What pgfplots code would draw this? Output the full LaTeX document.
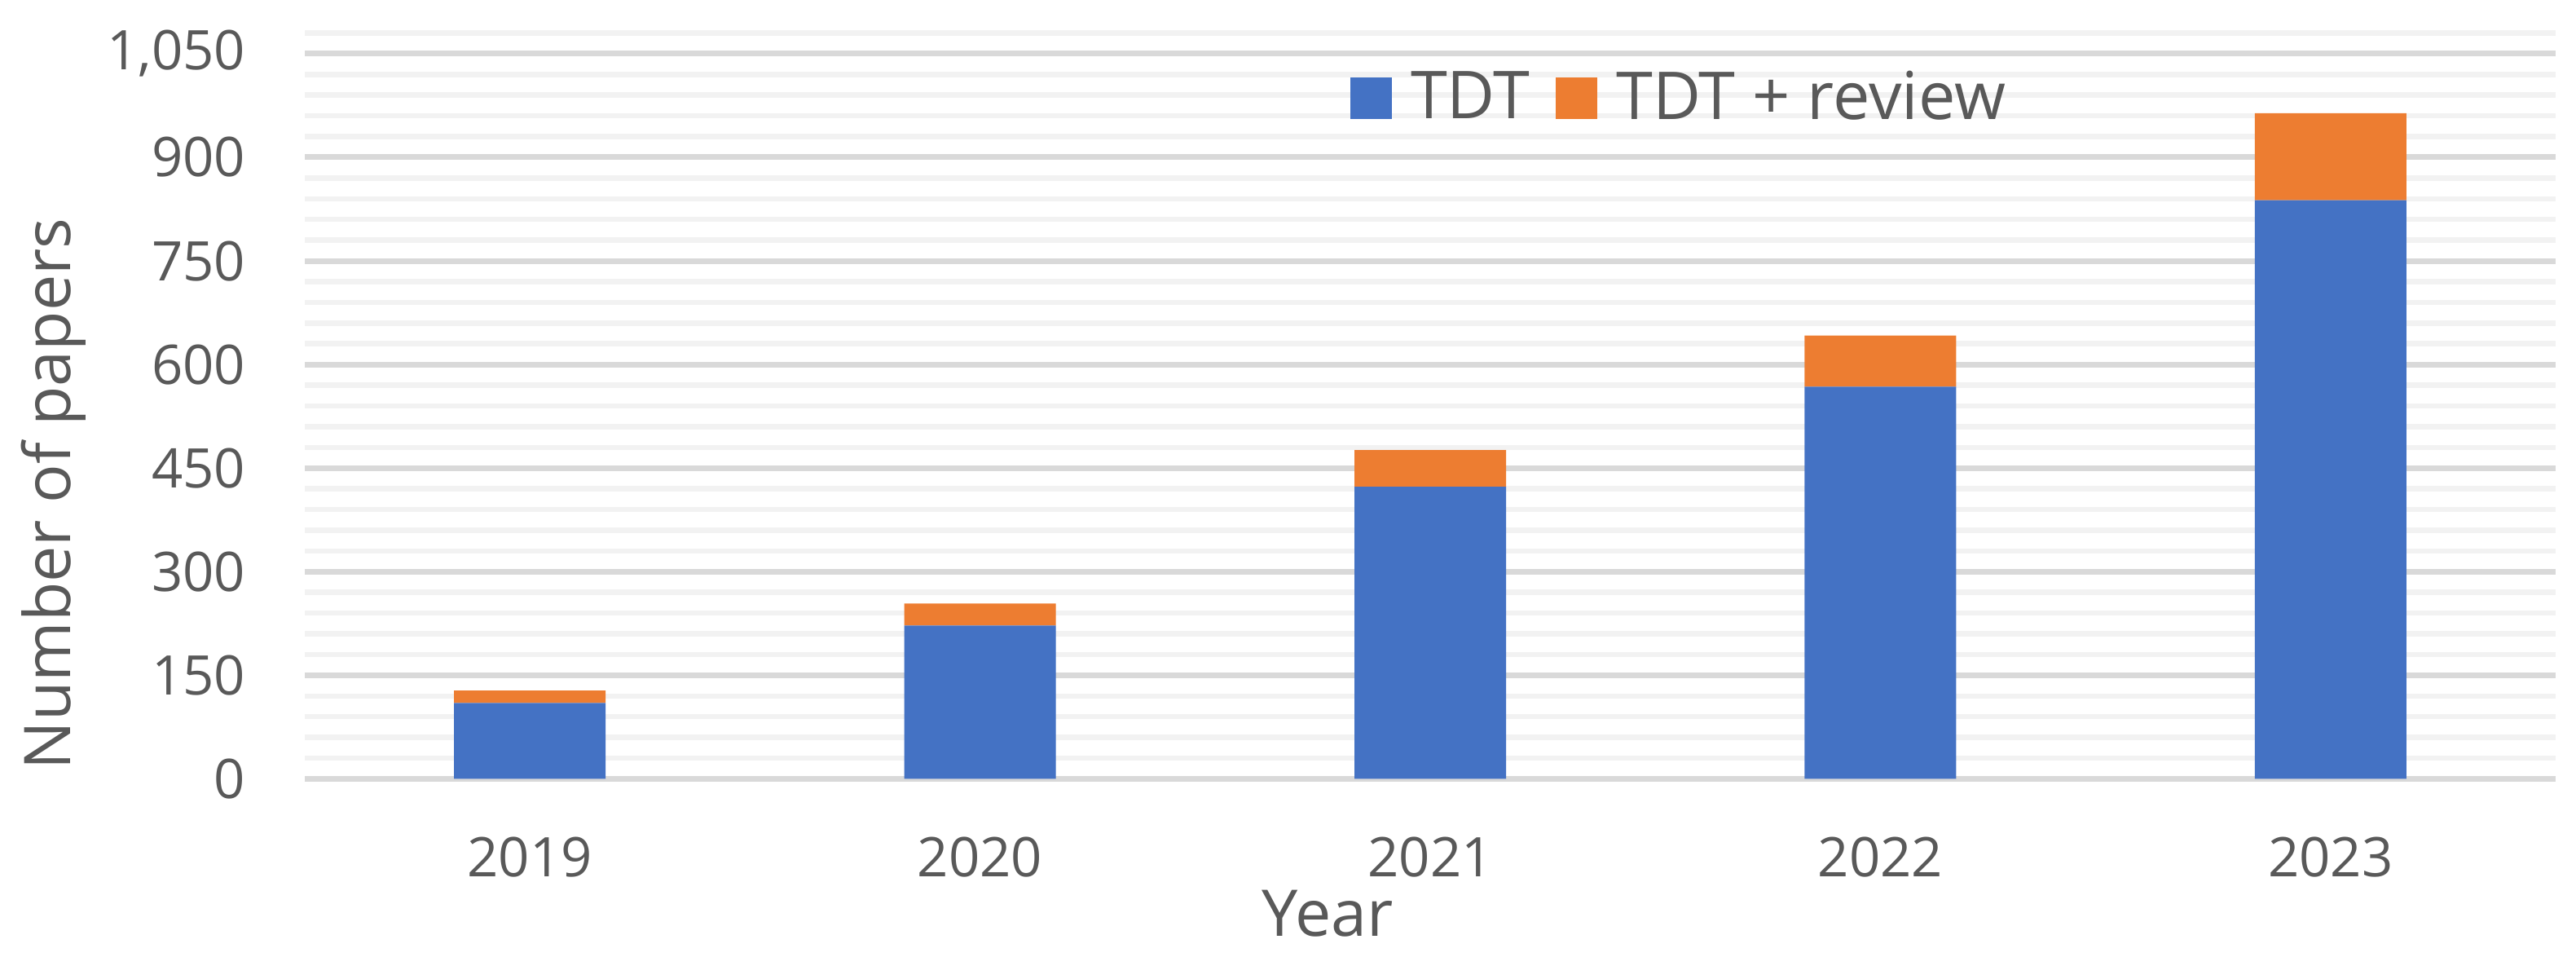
\documentclass[border=0pt]{standalone}
\usepackage{fontspec}
\setmainfont{Open Sans}
\usepackage{pgfplots}
\pgfplotsset{compat=1.18}
\definecolor{tdtblue}{HTML}{4472C4}
\definecolor{tdtorange}{HTML}{ED7D31}
\definecolor{txt}{HTML}{595959}
\definecolor{gmaj}{HTML}{D9D9D9}
\definecolor{gmin}{HTML}{F2F2F2}
\begin{document}
\begin{tikzpicture}
\path[use as bounding box] (0,0) rectangle (632.2pt,234.8pt);
\begin{axis}[
  at={(74.8pt,43.7pt)}, anchor=south west,
  scale only axis, width=552.4pt, height=183pt,
  ybar stacked, bar width=37.2pt,
  xmin=-0.5, xmax=4.5, ymin=0, ymax=1080,
  clip=false,
  xtick={0,1,2,3,4}, xticklabels={2019,2020,2021,2022,2023},
  ytick={0,150,...,1050}, yticklabels={0,150,300,450,600,750,900,{1,050}},
  minor ytick={0,30,...,1080},
  ymajorgrids, yminorgrids,
  major grid style={gmaj, line width=1.4pt},
  minor grid style={gmin, line width=1.3pt},
  axis line style={draw=none},
  major tick length=0pt, minor tick length=0pt,
  tick label style={font=\fontsize{13.4}{16}\selectfont, text=txt},
  yticklabel style={anchor=east, inner sep=0pt, xshift=-14.4pt},
  xticklabel style={anchor=north, inner sep=0pt, yshift=-14.1pt},
  xlabel={Year},
  xlabel style={at={(axis description cs:0.4544,-0.2104)}, anchor=base, inner sep=0pt, font=\fontsize{15.8}{19}\selectfont, text=txt},
  ylabel={Number of papers},
  ylabel style={at={(axis description cs:-0.10427,0.382)}, anchor=base, inner sep=0pt, font=\fontsize{15.8}{19}\selectfont, text=txt},
  legend columns=2,
  legend style={at={(axis description cs:0.4642,0.9126)}, anchor=west, draw=none, fill=none, inner sep=0pt,
    nodes={inner sep=0pt},
    font=\fontsize{16.2}{19}\selectfont, text=txt,
    /tikz/every odd column/.append style={column sep=4.6pt},
    /tikz/every even column/.append style={column sep=6.4pt}},
  legend image code/.code={\fill[#1] (0pt,-5.1pt) rectangle (10.2pt,5.1pt);},
]
\addplot[fill=tdtblue, draw=none] coordinates {(0,110) (1,222) (2,423) (3,568) (4,838)};
\addplot[fill=tdtorange, draw=none] coordinates {(0,18) (1,32) (2,53) (3,74) (4,126)};
\legend{TDT, TDT + review}
\draw[gmaj, line width=1.4pt] (axis cs:-0.5,0) -- (axis cs:4.5,0);
\end{axis}
\end{tikzpicture}
\end{document}
